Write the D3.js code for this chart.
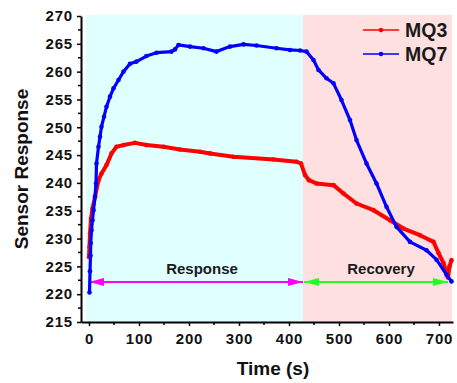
<!DOCTYPE html>
<html>
<head>
<meta charset="utf-8">
<script src="https://cdn.jsdelivr.net/npm/d3@7"></script>
<style>
  body { margin: 0; background: #fff; }
  svg { display: block; font-family: "Liberation Sans", Arial, sans-serif; font-weight: bold; }
</style>
</head>
<body>
<div id="chart"></div>
<script>
// MQ7 (blue) readings: time (s), response
const mq7Time = [1, 2, 3, 3.5, 5, 7, 9, 12, 14, 15, 19, 22, 25, 30, 35, 42, 49, 59, 69, 82, 95, 115, 135, 165, 172, 179, 202, 229, 255, 282, 309, 335, 375, 402, 422, 435, 449, 459, 475, 489, 505, 522, 535, 555, 575, 595, 615, 642, 675, 695, 715, 725];
const mq7Value = [220.3, 224.1, 226.9, 229.2, 231.5, 233.3, 235.1, 237.5, 239.9, 243.5, 246.5, 248.3, 250.1, 251.9, 253.7, 255.5, 257.0, 258.5, 260.0, 261.4, 261.8, 262.8, 263.4, 263.6, 264.0, 264.8, 264.5, 264.2, 263.6, 264.5, 264.9, 264.7, 264.2, 263.9, 263.8, 263.6, 262.1, 260.3, 258.8, 257.9, 254.9, 251.3, 247.7, 243.5, 239.9, 235.7, 232.1, 229.4, 227.9, 226.2, 223.5, 222.3];

// MQ3 (red) readings
const mq3Time = [0, 1, 2, 4, 7, 12, 19, 25, 35, 45, 55, 69, 92, 115, 149, 182, 222, 242, 289, 369, 415, 424, 432, 440, 455, 489, 509, 535, 569, 602, 629, 662, 689, 699, 709, 715, 718, 721, 725];
const mq3Value = [226.7, 228.5, 230.9, 233.6, 235.4, 237.5, 240.5, 241.7, 243.2, 245.3, 246.5, 246.8, 247.2, 246.8, 246.5, 246.0, 245.6, 245.3, 244.7, 244.2, 243.8, 243.5, 241.4, 240.5, 239.9, 239.6, 238.1, 236.3, 235.1, 233.3, 231.8, 230.6, 229.4, 227.4, 225.6, 223.8, 223.0, 225.0, 226.1];

// phases: name, start, end (s)
const phaseNames = ['Response', 'Recovery'];
const phaseStart = [-6, 428];
const phaseEnd = [428, 726];
const arrowStart = [0, 430];
const arrowEnd = [428, 718];
const arrowLevel = 222.2;

const xTicks = [0, 100, 200, 300, 400, 500, 600, 700];
const yTicks = [215, 220, 225, 230, 235, 240, 245, 250, 255, 260, 265, 270];

const width = 457, height = 383;
const svg = d3.select('#chart').append('svg')
    .attr('width', width)
    .attr('height', height);

const x = d3.scaleLinear().domain([-16, 728]).range([81, 453]);
const y = d3.scaleLinear().domain([215, 270]).range([322, 16]);

// background bands
const bandFill = ['#e0ffff', '#ffe0e0'];
svg.append('g').selectAll('rect')
    .data(phaseNames)
    .enter()
    .append('rect')
    .attr('x', (d, i) => x(phaseStart[i]))
    .attr('y', y(270.2))
    .attr('width', (d, i) => x(phaseEnd[i]) - x(phaseStart[i]))
    .attr('height', y(215) - y(270.2))
    .attr('fill', (d, i) => bandFill[i]);

// arrows
const defs = svg.append('defs');
const arrowColors = ['#ff00ff', '#22ff22'];
arrowColors.forEach((c, i) => {
    defs.append('marker')
        .attr('id', 'head' + i)
        .attr('viewBox', '0 0 15 8')
        .attr('refX', 15)
        .attr('refY', 4)
        .attr('markerWidth', 15)
        .attr('markerHeight', 8)
        .attr('markerUnits', 'userSpaceOnUse')
        .attr('orient', 'auto-start-reverse')
        .append('path')
        .attr('d', 'M0,0 L15,4 L0,8 Z')
        .attr('fill', c);
});

svg.append('g').selectAll('line')
    .data(phaseNames)
    .enter()
    .append('line')
    .attr('x1', (d, i) => x(arrowStart[i]))
    .attr('x2', (d, i) => x(arrowEnd[i]))
    .attr('y1', y(arrowLevel))
    .attr('y2', y(arrowLevel))
    .attr('stroke', (d, i) => arrowColors[i])
    .attr('stroke-width', 2)
    .attr('marker-start', (d, i) => `url(#head${i})`)
    .attr('marker-end', (d, i) => `url(#head${i})`);

// phase labels
svg.append('g').selectAll('text')
    .data(phaseNames)
    .enter()
    .append('text')
    .attr('x', (d, i) => i === 0 ? 202 : 381)
    .attr('y', 274)
    .attr('text-anchor', 'middle')
    .attr('font-size', '15px')
    .attr('fill', '#1a1a1a')
    .text(d => d);

// series
const series = [
    { name: 'MQ3', color: '#ff0000', t: mq3Time, v: mq3Value, w: 4 },
    { name: 'MQ7', color: '#0000ff', t: mq7Time, v: mq7Value, w: 3.2 }
];

const line = d3.line()
    .x(d => x(d[0]))
    .y(d => y(d[1]));

series.forEach(s => {
    const pts = s.t.map((t, i) => [t, s.v[i]]);
    const g = svg.append('g');
    g.append('path')
        .datum(pts)
        .attr('d', line)
        .attr('fill', 'none')
        .attr('stroke', s.color)
        .attr('stroke-width', s.w)
        .attr('stroke-linejoin', 'round')
        .attr('stroke-linecap', 'round');
    g.selectAll('circle')
        .data(pts)
        .enter()
        .append('circle')
        .attr('cx', d => x(d[0]))
        .attr('cy', d => y(d[1]))
        .attr('r', 2.3)
        .attr('fill', s.color);
});

// axes
const xAxis = svg.append('g')
    .attr('transform', `translate(0,${y(215)})`)
    .call(d3.axisBottom(x).tickValues(xTicks).tickSize(4).tickPadding(7).tickSizeOuter(0));
xAxis.append('g').selectAll('line')
    .data(xTicks.map(t => t + 50).filter(t => t < 728))
    .enter()
    .append('line')
    .attr('x1', d => x(d)).attr('x2', d => x(d))
    .attr('y1', 0).attr('y2', 3)
    .attr('stroke', '#000').attr('stroke-width', 1.5);

const yAxis = svg.append('g')
    .attr('transform', `translate(${x(-16)},0)`)
    .call(d3.axisLeft(y).tickValues(yTicks).tickSize(4).tickPadding(4).tickSizeOuter(0));
yAxis.append('g').selectAll('line')
    .data(yTicks.slice(0, -1).map(t => t + 2.5))
    .enter()
    .append('line')
    .attr('y1', d => y(d)).attr('y2', d => y(d))
    .attr('x1', 0).attr('x2', -3)
    .attr('stroke', '#000').attr('stroke-width', 1.5);

[xAxis, yAxis].forEach(a => {
    a.select('.domain').attr('stroke', '#000').attr('stroke-width', 2);
    a.selectAll('.tick line').attr('stroke', '#000').attr('stroke-width', 1.5);
    a.selectAll('.tick text')
        .attr('font-size', '15px')
        .attr('font-weight', 'bold')
        .attr('letter-spacing', '0.8px')
        .attr('font-family', '"Liberation Sans", Arial, sans-serif')
        .attr('fill', '#111');
});

// axis titles
svg.append('text')
    .attr('x', 273)
    .attr('y', 375)
    .attr('text-anchor', 'middle')
    .attr('font-size', '19px')
    .attr('fill', '#111')
    .text('Time (s)');

svg.append('text')
    .attr('transform', `translate(28,169) rotate(-90)`)
    .attr('text-anchor', 'middle')
    .attr('font-size', '19px')
    .attr('fill', '#111')
    .text('Sensor Response');

// legend
const legend = svg.append('g');
series.forEach((s, i) => {
    const ly = 30 + i * 24;
    legend.append('line')
        .attr('x1', 363).attr('x2', 399)
        .attr('y1', ly).attr('y2', ly)
        .attr('stroke', s.color).attr('stroke-width', 1.5);
    legend.append('circle')
        .attr('cx', 381).attr('cy', ly).attr('r', 2.3)
        .attr('fill', s.color);
    legend.append('text')
        .attr('x', 405)
        .attr('y', ly + 7)
        .attr('font-size', '19.5px')
        .attr('fill', '#1a1a1a')
        .text(s.name);
});
</script>
</body>
</html>
